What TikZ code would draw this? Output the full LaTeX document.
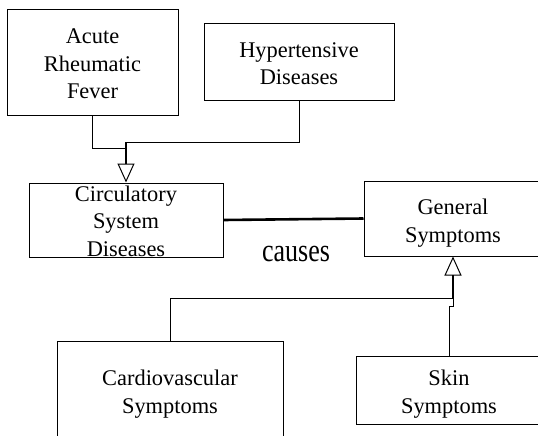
\documentclass[tikz,border=0pt]{standalone}
\usepackage{fontspec}
\setmainfont{Liberation Serif}
\usetikzlibrary{arrows.meta}
\tikzset{
  box/.style={draw, line width=1pt, rectangle, inner sep=0pt},
  txt/.style={align=center, inner sep=0pt, font=\fontsize{22.4}{27.5}\selectfont},
  wire/.style={line width=1pt},
  stem/.style={line width=2pt},
  assoc/.style={line width=2.6pt},
  gen/.style={-{Triangle[open, length=19pt, width=17pt, line width=1pt]}},
}
\begin{document}
\begin{tikzpicture}[x=1pt, y=1pt]
\useasboundingbox (0,0) rectangle (538,-436);
\clip (0,0) rectangle (538,-436);
\fill[white] (0,0) rectangle (538,-436);

% class boxes
\node[box, minimum width=171pt, minimum height=105pt] (acute) at (92.5,-62.5) {};
\node[box, minimum width=190pt, minimum height=76pt] (hyper) at (299,-62) {};
\node[box, minimum width=194pt, minimum height=74pt] (circ) at (126,-220) {};
\node[box, minimum width=178pt, minimum height=75pt] (general) at (453,-218.5) {};
\node[box, minimum width=226pt, minimum height=101pt] (cardio) at (170,-391.5) {};
\node[box, minimum width=186pt, minimum height=68pt] (skin) at (449,-390) {};

% class names
\node[txt] (acuteT) at ([yshift=-1.6pt]acute.center) {Acute\\Rheumatic\\Fever};
\node[txt] (hyperT) at ([yshift=-1.9pt]hyper.center) {Hypertensive\\Diseases};
\node[txt] (circT) at ([yshift=-0.9pt]circ.center) {Circulatory\\System\\Diseases};
\node[txt] (generalT) at ([yshift=-4.5pt]general.center) {General\\Symptoms};
\node[txt] (cardioT) at ([yshift=-2.5pt]cardio.center) {Cardiovascular\\Symptoms};
\node[txt] (skinT) at ([yshift=-4pt]skin.center) {Skin\\Symptoms};

% association between the two hierarchies
\draw[assoc] (circ.east) -- (general.west);
\node[font=\fontsize{26}{30}\selectfont, inner sep=0pt] (causes) at (296,-254) {\scalebox{1}[1.25]{causes}};

% generalisation into Circulatory System Diseases
\coordinate (topjoin) at (126,-142);
\draw[wire] (acute.south) |- (126,-148);
\draw[wire] (hyper.south) |- (topjoin);
\draw[stem, gen] (topjoin) -- (circ.north);

% generalisation into General Symptoms
\coordinate (botjoin) at (453,-298.5);
\draw[wire] (cardio.north) |- (botjoin);
\draw[wire] (skin.north) -- (449,-306) -- (453,-306) -- (botjoin);
\draw[stem, gen] (botjoin) -- (general.south);
\end{tikzpicture}
\end{document}
